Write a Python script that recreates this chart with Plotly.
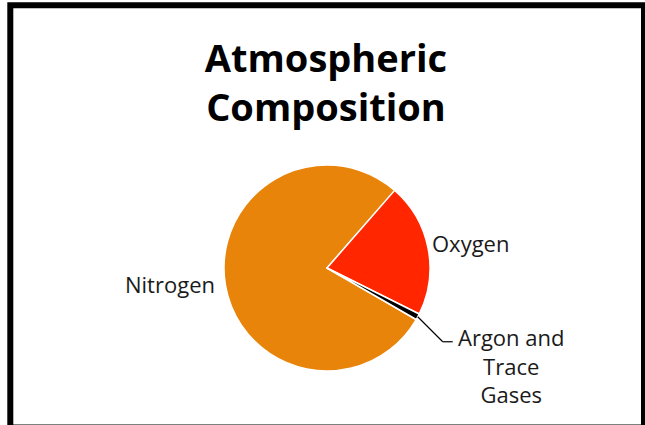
import math
import plotly.graph_objects as go

# Data
labels = ["Nitrogen", "Oxygen", "Argon and<br>Trace<br>Gases"]
values = [78.08, 20.95, 0.97]
colors = ["#E9840A", "#FF2600", "#000000"]

W, H = 645, 425
CX, CY, R = 327, 268, 103  # pie centre / radius in px
ROT = 120

def px(x):
    return x / W

def py(y):
    return 1 - y / H

fig = go.Figure(go.Pie(
    labels=labels,
    values=values,
    sort=False,
    direction="clockwise",
    rotation=ROT,
    textinfo="none",
    hoverinfo="label+percent",
    marker=dict(colors=colors, line=dict(color="white", width=1.5)),
    domain=dict(x=[px(CX - R), px(CX + R)], y=[py(CY + R), py(CY - R)]),
    showlegend=False,
))

# label positions (style)
label_pos = [(170, 284), (470, 243), (511, 365)]
annotations = []
for lab, (lx, ly) in zip(labels, label_pos):
    annotations.append(dict(
        x=px(lx), y=py(ly), xref="paper", yref="paper",
        text=lab, showarrow=False, xanchor="center", yanchor="middle",
        font=dict(family="Open Sans", size=22, color="#1a1a1a"), align="center",
    ))

# leader line for the small slice, computed from its mid angle
total = sum(values)
mid = ROT + (values[0] + values[1] + values[2] / 2) / total * 360
ang = math.radians(mid)
sx = CX + R * math.sin(ang)
sy = CY - R * math.cos(ang)
ex, ey = sx + 25, sy + 25
hx = ex + 10
shapes = [
    dict(type="line", xref="paper", yref="paper", x0=px(sx), y0=py(sy), x1=px(ex), y1=py(ey),
         line=dict(color="black", width=1.2)),
    dict(type="line", xref="paper", yref="paper", x0=px(ex), y0=py(ey), x1=px(hx), y1=py(ey),
         line=dict(color="black", width=1.2)),
    # outer frame
    dict(type="rect", xref="paper", yref="paper", x0=px(10.3), x1=px(644), y0=py(427.5), y1=py(5.3),
         line=dict(color="black", width=6), fillcolor="rgba(0,0,0,0)"),
]

fig.update_layout(
    width=W, height=H, autosize=False,
    margin=dict(l=0, r=0, t=0, b=0),
    paper_bgcolor="white", plot_bgcolor="white",
    title=dict(
        text="<b>Atmospheric<br>Composition</b>",
        x=px(326), xanchor="center", y=py(72), yanchor="middle",
        yref="container",
        font=dict(family="Open Sans", size=38, color="black"),
    ),
    annotations=annotations,
    shapes=shapes,
)

fig.write_html("out.html", config={"displayModeBar": False},
               post_script="document.body.style.margin='0';")
